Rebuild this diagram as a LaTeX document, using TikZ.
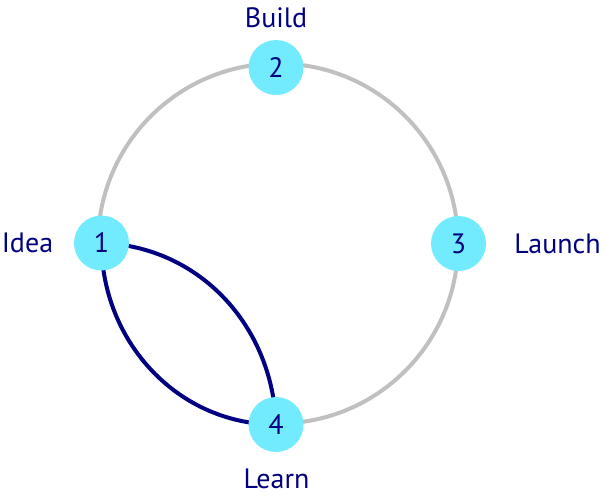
\documentclass[tikz,border=0pt]{standalone}
\usepackage{fontspec}
\setmainfont{PT Sans}
\usetikzlibrary{backgrounds}
\definecolor{navy}{HTML}{000080}
\definecolor{cyanfill}{HTML}{73EBFF}
\definecolor{ringgray}{HTML}{C0C0C0}
\begin{document}
\begin{tikzpicture}[x=1pt,y=-1pt,
  stagenode/.style={circle,fill=cyanfill,minimum size=55pt,inner sep=0pt,text=navy,font=\fontsize{28}{30}\selectfont},
  stagelabel/.style={anchor=base,text=navy,inner sep=0pt,font=\fontsize{28}{30}\selectfont},
  ring/.style={draw=ringgray,line width=4pt},
  link/.style={draw=navy,line width=4pt}]
\useasboundingbox (0,0) rectangle (604,496);
\coordinate (c) at (278,243.5);
\node[stagenode] (n1) at (101.5,243) {1};
\node[stagenode] (n2) at (276,67.5) {2};
\node[stagenode] (n3) at (458.5,243.5) {3};
\node[stagenode] (n4) at (276,424.5) {4};
\begin{scope}[on background layer]
\draw[ring] (c) ++(180:180) arc[start angle=180, end angle=450, radius=180];
\draw[link] (n1.center) to[out=-2,in=92] (n4.center);
\draw[link] (n1.center) to[out=-90,in=180] (n4.center);
\end{scope}
\node[stagelabel] (l1) at (27.5,252) {Idea};
\node[stagelabel] (l2) at (276,27) {Build};
\node[stagelabel] (l3) at (557.5,253) {Launch};
\node[stagelabel] (l4) at (276.5,488) {Learn};
\end{tikzpicture}
\end{document}
